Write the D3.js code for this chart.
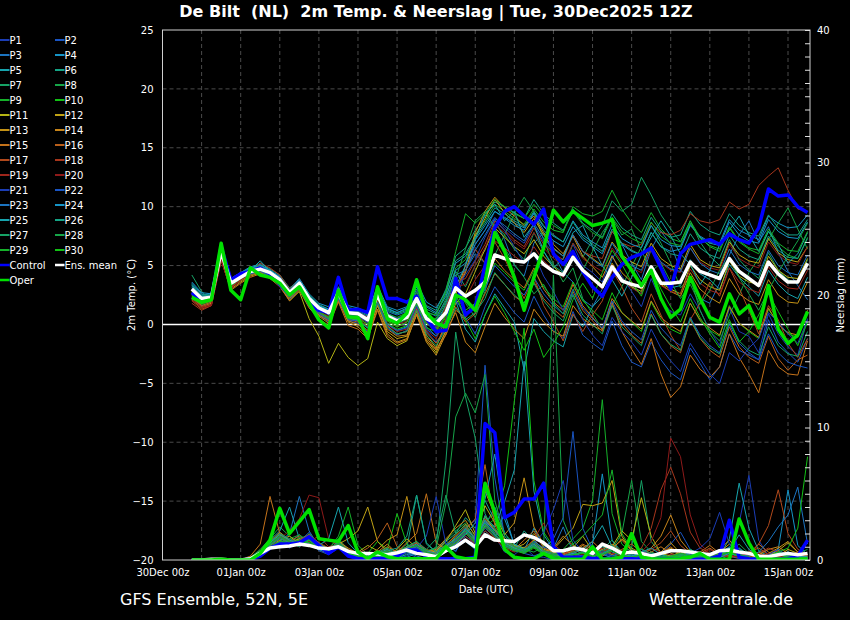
<!DOCTYPE html>
<html>
<head>
<meta charset="utf-8">
<script src="https://cdn.jsdelivr.net/npm/d3@7"></script>
<style>
  body { margin: 0; background: #000; }
  svg text { font-family: "DejaVu Sans", sans-serif; fill: #fff; }
</style>
</head>
<body>
<div id="chart"></div>
<script>
// GFS ensemble De Bilt, run 30Dec2025 12Z, 6-hourly steps (+6h .. +384h)

const leadHours = [6,12,18,24,30,36,42,48,54,60,66,72,78,84,90,96,102,108,114,120,126,132,138,144,150,156,162,168,174,180,186,192,198,204,210,216,222,228,234,240,246,252,258,264,270,276,282,288,294,300,306,312,318,324,330,336,342,348,354,360,366,372,378,384];

const memberNames = ["P1","P2","P3","P4","P5","P6","P7","P8","P9","P10","P11","P12","P13","P14","P15","P16","P17","P18","P19","P20","P21","P22","P23","P24","P25","P26","P27","P28","P29","P30"];

const memberColors = ["#1b3db5","#1a55c2","#1c74c0","#1694c6","#17a4ad","#15a385","#16a266","#16a548","#15b12a","#12c015",
                      "#b4b414","#c0a315","#c49216","#c6841a","#c4721a","#b95f1b","#b0491c","#a6361c","#9e261c","#8d1a1a",
                      "#1b3db5","#1a55c2","#1c74c0","#1694c6","#17a4ad","#15a385","#16a266","#16a548","#15b12a","#12c015"];

const dateTicks = [Date.UTC(2025,11,30), Date.UTC(2026,0,1), Date.UTC(2026,0,3), Date.UTC(2026,0,5), Date.UTC(2026,0,7),
                   Date.UTC(2026,0,9), Date.UTC(2026,0,11), Date.UTC(2026,0,13), Date.UTC(2026,0,15)];
const tempTicks = [-20,-15,-10,-5,0,5,10,15,20,25];
const precipLabels = [0,10,20,30,40];

// 2m temperature (°C)
const tempControl = [2.7,2.0,2.3,6.6,3.8,4.3,4.5,4.8,4.3,3.4, 2.5,3.3,1.8,1.2,1.0,4.0,1.2,1.3,1.0,4.9, 2.2,2.2,1.9,2.4,0.5,-0.6,-0.5,3.9,0.8,1.5,
  5.0,8.2,9.6,10.0,9.2,8.5,9.8,6.0,5.1,6.2, 4.5,3.2,2.4,4.0,5.1,5.7,6.0,6.5,4.8,3.0, 6.0,6.8,7.0,7.2,6.8,7.7,7.2,6.9,8.2,11.5, 10.9,11.0,10.0,9.5];
const tempOper = [2.3,1.9,2.1,6.9,2.9,2.1,4.8,4.2,4.0,3.5, 2.5,3.2,1.8,0.4,-0.3,2.9,0.65,0.6,-1.2,3.2, 0.5,0.1,0.95,3.8,1.0,0.1,-0.2,2.5,2.1,1.2,
  3.6,7.8,6.2,4.0,1.2,4.0,6.5,9.7,8.7,9.6, 9.0,8.4,8.6,8.9,5.8,4.6,3.3,4.6,2.2,0.6, 1.3,4.0,2.2,0.6,0.2,2.6,0.9,1.6,-0.3,3.3, -0.4,-1.6,-0.9,1.1];
const tempMean = [3.0,2.2,2.3,6.2,3.5,4.0,4.5,4.7,4.4,3.8, 2.7,3.5,2.2,1.4,1.0,2.7,1.0,0.9,0.4,2.5, 0.7,0.3,0.6,2.2,0.5,0.1,1.0,3.1,2.4,2.9,
  3.6,5.9,5.6,5.4,5.3,6.0,5.1,4.5,4.2,5.7, 4.6,3.9,3.2,4.9,3.7,3.4,3.2,4.9,3.5,3.5, 3.6,5.3,4.5,4.2,3.9,5.6,4.5,3.9,3.3,5.3, 4.3,3.6,3.6,5.2];

const tempMembers = [
  /* P1 */ [2.6,1.8,2.1,6.0,3.2,4.1,4.6,4.9,4.2,3.5,2.4,3.1,1.9, 1.2,0.6,3.0,1.3,0.8,0.1,2.8,1.0,0.5,-0.2,1.6,0.2,-0.8,0.4, 2.0,4.5,6.8,8.0,9.1,8.2,7.5,6.9,8.4,7.0,6.1,5.2,6.8,5.0,4.4,3.6,5.9,4.1,2.8,1.5,3.9,2.0,1.1,0.8,2.6,1.2,-0.5,-1.8,1.4,-0.6,-1.0,-2.4,0.9,-0.8,-1.9,-2.6,0.5],
  /* P2 */ [2.2,1.6,1.9,5.6,3.0,3.8,4.3,4.5,4.1,3.3,2.1,3.0,1.5, 0.8,0.2,2.2,0.3,0.1,-0.6,1.9,-0.3,-0.9,-0.5,1.4,-0.6,-1.5,-0.4, 2.2,0.6,-0.8,1.5,3.2,2.1,1.0,0.2,2.4,0.8,-0.5,-1.2,1.1,-0.9,-1.6,-2.2,0.3,-1.8,-3.2,-3.6,-1.5,-3.0,-4.1,-4.7,-2.0,-3.3,-4.7,-3.6,-0.8,-2.2,-2.6,-3.0,0.4,-1.5,-2.4,-3.2,-1.2],
  /* P3 */ [3.2,2.5,2.6,6.5,3.8,4.3,4.8,5.0,4.6,4.0,2.9,3.8,2.4, 1.6,1.2,2.9,1.1,1.0,0.6,2.6,0.9,0.5,0.9,2.5,0.8,0.3,1.6, 3.8,4.6,6.0,5.2,8.9,7.2,5.0,4.1,6.9,7.8,6.0,4.4,3.6,2.1,1.5,3.0,5.6,6.8,5.2,3.8,6.4,7.9,6.8,4.6,3.9,2.2,1.8,3.5,5.9,7.6,8.8,7.0,8.3,6.1,4.5,3.3,2.1],
  /* P4 */ [3.5,2.6,2.4,6.4,3.9,4.4,4.9,5.1,4.6,4.1,3.0,3.9,2.6, 1.8,1.5,3.2,1.6,1.4,1.0,3.3,1.5,1.2,1.5,3.6,1.9,1.4,2.8, 5.2,5.8,7.2,8.4,9.6,9.1,8.6,8.2,9.4,8.0,7.1,6.6,8.3,7.2,6.6,6.0,7.9,6.8,6.2,5.9,7.8,6.6,6.2,6.4,8.4,7.5,7.0,6.9,8.9,8.0,7.6,7.2,9.2,8.6,8.2,8.3,9.3],
  /* P5 */ [2.9,2.1,2.2,6.1,3.6,4.0,4.4,4.6,4.3,3.7,2.5,3.4,2.0, 1.0,0.5,2.4,0.4,0.3,-0.3,1.9,0.0,-0.5,-0.2,1.8,-0.2,-1.0,0.2, 2.0,-0.4,-1.5,0.8,2.6,1.4,0.2,-3.9,0.5,-0.6,-1.4,-1.9,0.8,-0.2,1.5,2.4,4.6,3.8,3.2,2.6,4.8,3.6,3.1,3.3,5.5,4.3,3.8,3.0,5.1,4.0,3.2,2.4,4.6,3.4,2.6,2.2,4.0],
  /* P6 */ [3.4,2.4,2.5,6.6,3.7,4.2,4.7,5.2,4.7,4.2,3.1,3.7,2.5, 1.7,1.3,3.0,1.4,1.3,0.9,3.0,1.4,1.0,1.3,3.3,1.6,1.2,3.0, 5.8,6.5,8.0,9.2,10.4,10.0,9.5,9.0,10.6,9.4,8.6,8.0,9.8,8.6,8.0,7.4,9.4,8.2,7.6,7.2,9.1,7.9,7.4,7.6,9.6,8.5,7.9,7.6,9.4,8.4,7.8,7.5,9.3,8.2,7.6,7.6,8.9],
  /* P7 */ [4.2,2.8,2.0,6.8,3.3,3.7,4.3,4.8,4.5,3.9,2.8,3.6,2.1, 1.3,0.8,2.6,0.8,0.6,0.2,2.3,0.5,0.1,0.4,2.0,0.1,-0.3,1.8, 4.5,3.2,5.0,6.3,8.5,7.6,6.4,5.5,7.8,6.2,5.0,4.4,6.9,5.7,7.2,8.4,10.5,9.6,10.2,12.5,11.0,9.3,8.1,7.0,8.8,7.0,5.8,5.0,7.2,5.5,4.6,3.9,6.1,4.6,3.8,3.5,5.5],
  /* P8 */ [3.1,2.3,2.4,6.3,3.4,4.0,4.6,4.8,4.4,3.9,2.8,3.6,2.3, 1.5,1.1,2.8,1.1,1.0,0.5,2.6,0.8,0.4,0.8,2.4,0.6,0.2,1.2, 3.4,1.8,0.6,2.8,5.9,7.6,9.4,10.8,9.6,7.2,5.1,3.6,4.8,2.2,0.9,-0.4,1.6,3.2,4.9,6.6,8.4,6.9,5.2,3.1,4.0,1.2,-0.6,-1.4,0.8,2.5,4.4,5.6,7.2,8.6,9.9,8.1,6.4],
  /* P9 */ [2.7,2.0,2.3,6.2,3.6,4.2,4.5,4.6,4.3,3.7,2.6,3.4,2.1, 1.3,0.9,2.6,0.9,0.8,0.3,2.4,0.6,0.2,0.7,2.4,0.6,0.5,2.2, 4.8,5.5,7.6,8.8,10.2,9.6,9.0,8.5,9.8,8.7,8.0,7.8,10.0,9.4,9.2,9.6,11.4,9.8,8.6,7.8,9.5,8.1,7.3,7.0,8.8,7.4,6.6,6.2,8.2,7.0,6.4,6.0,7.9,6.6,5.9,5.6,7.4],
  /* P10 */ [2.4,1.7,2.0,5.9,3.1,3.8,4.2,4.4,4.0,3.4,2.3,3.2,1.8, 0.9,0.4,2.3,0.5,0.4,-0.2,2.0,0.1,-0.4,-0.1,1.7,-0.3,-0.6,0.6, 2.4,1.2,1.8,3.0,5.2,4.4,3.6,2.9,4.6,3.2,2.2,1.5,3.6,2.0,1.2,0.4,2.7,1.0,0.2,-0.6,1.9,0.4,-0.4,-0.8,1.8,0.3,-0.5,-1.0,1.6,0.1,-0.6,-1.2,1.3,0.0,-0.8,-1.1,1.0],
  /* P11 */ [2.5,1.9,2.2,6.0,3.3,3.9,4.3,4.5,4.1,3.3,2.0,2.8,0.5, -1.0,-3.3,-1.6,-2.8,-3.5,-2.9,0.2,-1.2,-1.8,-1.4,0.9,-1.3,-2.4,-0.5, 1.8,2.6,4.5,6.4,8.2,7.4,6.6,6.0,7.2,5.8,4.9,4.2,6.0,4.6,3.9,3.1,5.2,3.9,3.2,2.8,4.9,3.5,3.0,2.6,5.0,3.8,3.2,2.9,5.4,4.1,3.6,3.4,5.8,4.6,4.0,3.9,5.6],
  /* P12 */ [2.8,2.0,2.1,6.3,3.5,4.1,4.6,4.8,4.3,3.6,2.5,3.3,1.9, 1.0,0.4,2.3,0.6,0.3,-0.8,1.6,-0.6,-1.2,-1.0,1.2,-0.9,-2.0,0.3, 3.0,4.4,7.5,9.0,10.6,9.5,8.6,7.8,9.0,7.6,6.5,5.8,7.6,6.2,5.6,5.0,7.0,5.9,5.3,4.9,6.9,5.6,5.0,4.7,6.8,5.5,5.0,4.8,7.0,5.9,5.4,5.2,7.3,6.1,5.5,5.3,6.6],
  /* P13 */ [2.3,1.5,1.8,5.7,3.0,3.6,4.1,4.4,4.0,3.4,2.2,3.0,1.6, 0.7,0.1,2.0,0.2,-0.2,-1.0,1.3,-0.8,-1.5,-1.2,0.8,-1.5,-2.6,-0.8, 2.5,5.0,7.8,9.6,10.8,9.9,9.2,8.4,9.2,7.8,6.8,6.0,7.5,5.8,4.9,4.0,5.8,4.4,3.6,3.0,4.9,3.4,2.8,2.4,4.4,3.0,2.3,1.8,3.9,2.6,2.0,1.7,3.8,2.5,1.9,1.8,3.6],
  /* P14 */ [2.6,1.8,2.0,6.0,3.4,4.0,4.4,4.6,4.2,3.5,2.4,3.2,1.8, 0.8,0.3,2.2,0.3,0.0,-0.7,1.6,-0.4,-1.0,-0.9,1.1,-1.1,-2.2,-0.6, 1.0,-1.5,-2.4,-0.2,1.8,0.6,-0.4,-1.2,1.3,0.2,-0.6,-1.0,1.6,0.5,-0.1,-0.5,2.2,1.0,0.3,-0.4,2.0,0.6,-0.1,-0.6,1.8,0.4,-0.3,-0.9,1.5,0.1,-0.5,-1.1,1.4,0.0,-0.7,-0.9,1.2],
  /* P15 */ [2.1,1.4,1.7,5.5,2.9,3.5,4.0,4.3,3.9,3.2,2.0,2.9,1.4, 0.5,-0.1,1.9,-0.1,-0.4,-1.2,1.2,-1.0,-1.6,-1.3,0.9,-1.4,-2.1,-0.9, 1.2,0.6,1.8,3.2,5.6,4.6,3.8,3.1,4.8,3.0,1.9,1.2,3.4,1.6,0.6,-0.4,1.9,-0.6,-2.1,-3.4,-1.2,-4.2,-6.2,-5.3,-2.6,-3.8,-4.5,-3.6,-0.8,-2.8,-4.2,-5.8,-2.2,-3.6,-4.2,-4.3,-1.4],
  /* P16 */ [2.4,1.6,1.9,5.8,3.2,3.7,4.2,4.5,4.1,3.5,2.3,3.1,1.7, 0.9,0.3,2.1,0.4,0.2,-0.5,1.8,-0.1,-0.8,-0.6,1.3,-0.7,-1.6,-0.2, 1.5,0.2,0.9,2.6,4.3,3.4,2.4,1.8,3.6,2.2,1.3,0.6,2.8,1.2,0.3,-0.6,1.7,0.1,-0.9,-1.6,0.9,-0.8,-1.8,-2.4,0.4,-1.2,-2.2,-2.8,-0.2,-1.9,-2.8,-3.3,-1.0,-2.9,-3.9,-3.0,-2.6],
  /* P17 */ [2.0,1.3,1.6,5.6,3.1,3.8,4.4,4.9,4.5,3.9,2.7,3.4,2.0, 1.1,0.6,2.5,0.7,0.6,0.0,2.2,0.3,-0.2,0.2,1.9,0.1,-0.5,0.8, 2.8,4.6,6.4,5.2,7.0,5.6,3.8,2.2,4.1,1.6,0.2,-1.4,0.9,-0.6,0.8,2.0,4.6,3.2,1.4,0.2,2.6,0.8,-0.9,-2.2,0.4,1.8,3.6,2.4,4.8,3.1,1.2,-0.8,1.6,0.4,-1.6,-2.8,-1.2],
  /* P18 */ [1.8,1.2,1.6,5.4,3.0,3.9,4.5,5.2,4.8,4.2,3.0,3.8,2.3, 1.4,1.0,3.1,1.2,1.1,0.6,2.7,0.8,0.4,0.7,2.2,0.4,-0.4,1.5, 3.6,3.9,5.4,6.8,8.8,8.0,7.2,6.6,8.2,6.8,6.0,5.5,7.6,6.2,5.8,5.6,7.9,6.9,6.6,6.8,8.6,7.8,7.6,8.0,9.4,8.8,8.6,8.9,10.4,9.8,10.2,11.8,12.6,13.3,11.4,9.8,9.6],
  /* P19 */ [2.2,1.5,1.7,5.7,3.2,3.9,4.5,4.9,4.4,3.8,2.6,3.5,2.0, 1.0,0.5,2.4,0.6,0.5,-0.2,2.0,0.0,-0.6,-0.4,1.5,-0.5,-1.2,0.5, 2.4,2.2,3.8,5.0,7.1,6.5,5.8,5.2,6.6,5.4,4.6,4.0,5.9,4.5,3.8,3.0,5.1,3.7,3.1,2.6,4.6,3.3,2.8,2.6,4.7,3.5,2.9,2.6,4.8,3.6,3.0,2.7,4.9,3.7,3.1,3.0,4.6],
  /* P20 */ [2.0,1.4,1.6,5.5,3.0,3.8,4.3,4.7,4.3,3.7,2.6,3.4,1.9, 1.1,0.7,2.6,0.8,0.7,0.2,2.3,0.4,0.0,0.3,2.0,0.2,-0.2,1.0, 3.2,3.4,5.0,6.5,8.4,7.8,7.0,6.4,7.8,6.5,5.6,5.0,6.9,5.6,5.0,4.5,6.5,5.3,4.8,4.4,6.4,5.2,4.6,4.4,6.5,5.3,4.8,4.6,6.8,5.6,5.1,4.8,7.0,5.9,5.3,5.1,6.6],
  /* P21 */ [3.0,2.2,2.3,6.1,3.5,4.1,4.5,4.7,4.3,3.7,2.6,3.4,2.1, 1.3,0.8,2.6,0.8,0.7,0.2,2.4,0.6,0.2,0.5,2.1,0.4,-0.2,0.9, 3.0,4.2,5.5,7.4,8.9,8.0,6.6,5.2,6.0,4.1,2.8,1.2,2.6,0.4,-0.9,-1.8,0.6,-0.6,-1.5,-2.6,-0.4,-2.0,-3.1,-4.0,-1.6,-2.9,-4.2,-5.0,-2.4,-3.1,-2.0,-1.2,1.0,0.2,-0.8,-1.6,0.4],
  /* P22 */ [2.7,1.9,2.1,5.9,3.3,3.9,4.3,4.5,4.1,3.5,2.4,3.2,1.8, 0.9,0.4,2.2,0.4,0.3,-0.3,1.9,0.0,-0.5,-0.3,1.6,-0.4,-1.0,0.2, 2.0,1.0,1.6,3.0,5.0,4.1,3.2,2.5,4.0,2.6,1.6,0.9,3.0,1.4,0.5,-0.3,2.0,0.3,-0.6,-1.3,1.2,-0.3,-1.2,-1.8,0.6,-0.9,-1.8,-2.4,0.0,-1.6,-2.4,-3.0,-0.8,-2.4,-3.2,-3.5,-3.7],
  /* P23 */ [3.3,2.4,2.4,6.4,3.7,4.2,4.7,4.9,4.5,3.9,2.8,3.7,2.3, 1.5,1.1,2.9,1.2,1.1,0.7,2.8,1.1,0.8,1.1,2.8,1.1,0.7,2.0, 4.2,4.6,6.3,7.6,9.0,8.4,7.7,7.1,8.6,7.3,6.4,5.8,7.6,6.2,5.5,4.9,6.9,5.6,5.0,4.6,6.6,5.3,4.7,4.5,6.5,5.2,4.6,4.3,6.4,5.1,4.5,4.2,6.3,5.0,4.4,4.2,5.9],
  /* P24 */ [3.6,2.7,2.6,6.6,3.9,4.4,4.8,5.0,4.6,4.0,2.9,3.8,2.4, 1.6,1.3,3.1,1.4,1.3,0.9,3.1,1.3,1.0,1.4,3.2,1.5,1.0,2.4, 4.6,5.2,6.8,8.0,9.6,9.0,8.4,8.0,9.5,8.3,7.5,7.0,8.8,7.6,7.0,6.5,8.5,7.3,6.8,6.5,8.4,7.2,6.7,6.6,8.5,7.4,6.9,6.7,8.7,7.6,7.1,6.9,8.9,7.9,7.4,7.3,8.7],
  /* P25 */ [3.1,2.3,2.4,6.2,3.6,4.1,4.6,5.4,4.5,3.4,2.7,3.5,2.2, 1.4,1.0,2.8,1.0,0.9,0.4,2.5,0.7,0.3,0.6,2.2,0.5,0.0,1.1, 3.2,5.0,7.2,9.4,10.2,8.8,9.6,7.4,8.5,6.2,4.8,5.6,7.8,8.4,6.6,5.0,3.8,2.4,4.0,5.9,7.4,8.8,7.5,6.0,5.1,3.4,4.6,6.8,8.0,9.2,7.6,6.2,7.9,6.8,5.2,6.0,7.8],
  /* P26 */ [3.3,2.5,2.5,6.5,3.8,4.3,4.7,5.0,4.5,3.9,2.8,3.6,2.3, 1.5,1.2,3.0,1.3,1.2,0.8,2.9,1.2,0.9,1.2,3.0,1.3,0.9,2.6, 5.4,6.0,7.4,8.6,9.9,9.4,8.8,8.3,9.6,8.4,7.6,7.0,8.7,7.4,6.8,6.2,8.1,6.9,6.3,5.9,7.8,6.6,6.0,5.8,7.7,6.5,5.9,5.6,7.6,6.4,5.8,5.5,7.5,6.3,5.7,5.6,7.3],
  /* P27 */ [2.8,2.0,2.2,6.1,3.3,3.9,4.4,4.6,4.2,3.6,2.5,3.3,1.9, 1.0,0.5,2.3,0.5,0.4,-0.3,1.8,-0.2,-0.8,-0.6,1.2,-0.9,-1.8,-0.4, 1.4,0.4,1.0,2.2,4.4,3.4,2.5,1.8,3.5,2.0,1.0,0.3,2.5,0.8,0.0,-0.8,1.6,-0.2,-1.0,-1.8,0.8,-0.8,-1.7,-2.2,0.5,-1.1,-2.0,-2.5,0.2,-1.4,-2.2,-2.6,-0.2,-1.8,-2.5,-2.7,-0.6],
  /* P28 */ [3.0,2.2,2.3,6.3,3.5,4.1,4.6,4.8,4.4,3.8,2.7,3.5,2.1, 1.3,0.9,2.7,0.9,0.8,0.3,2.5,0.6,0.2,0.5,2.1,0.4,0.4,1.9, 3.9,6.4,8.8,9.6,8.2,6.5,5.1,4.0,2.6,3.4,1.8,0.9,2.8,4.6,6.2,7.8,9.0,7.6,8.1,6.3,4.5,5.2,3.6,2.2,3.4,1.7,2.9,4.6,5.7,4.0,2.6,1.2,2.9,4.4,5.8,7.1,8.6],
  /* P29 */ [2.9,2.1,2.2,6.4,3.6,4.2,4.6,4.7,4.3,3.8,2.7,3.5,2.1, 1.4,1.0,2.8,1.1,1.0,0.5,2.7,0.9,0.6,1.0,2.7,1.0,0.8,2.8, 6.2,9.4,8.6,9.4,10.6,10.0,9.4,9.0,10.2,9.2,8.4,7.9,9.6,8.5,7.8,7.3,9.1,7.9,7.3,6.9,8.7,7.5,6.9,6.7,8.6,7.3,6.7,6.4,8.3,7.1,6.5,6.3,8.1,6.9,6.3,6.2,7.9],
  /* P30 */ [2.5,1.8,2.1,6.0,3.3,3.9,4.4,4.6,4.2,3.6,2.5,3.3,1.9, 1.1,0.6,2.4,0.6,0.5,0.0,2.2,0.3,-0.2,0.2,1.9,0.1,-0.4,0.7, 2.6,0.4,-1.2,0.8,2.4,1.0,-0.6,-2.2,-0.4,-2.8,-1.6,-0.2,2.1,3.5,2.2,4.4,6.3,5.1,3.6,2.4,4.8,3.0,1.5,0.2,2.2,0.6,-0.8,-2.0,0.4,-1.5,-0.6,0.8,2.6,1.1,-0.4,-1.8,0.2]
];

// precipitation per 6h (mm), right axis
const precipControl = [0,0,0,0,0,0,0.05,0.3,0.9,1.2, 1.2,1.3,1.75,1.1,0.5,1.0,0.3,0.1,0.1,0.1, 0.1,0.3,0.75,0.75,0.25,0.1,0.1,0.1,0.1,0.2,
  10.3,9.6,3.2,3.6,4.6,4.6,5.8,1.0,0.2,0.2, 0.2,0.1,0.1,0.1,0.1,0.1,0.05,0.05,0.05,0.05, 0.05,0.05,0.05,0.1,0.3,3.0,0.2,0.1,0.05,0.05, 0.05,0.1,0.3,1.5];
const precipOper = [0,0,0,0.05,0,0,0,0.5,1.5,3.9, 2.0,2.9,3.8,1.6,1.5,1.4,2.6,0.6,0.1,0.6, 0.25,0.1,0.1,0.1,0.1,0.1,1.0,0.25,0.1,0.1,
  5.8,3.6,0.8,0.2,0.1,0.1,0.5,0.1,0.05,0.05, 0.05,1.0,0.05,0.1,0.2,2.0,0.2,0.1,0.05,0.05, 0.1,0.2,0.5,0.05,0.05,0.05,3.1,1.3,0.05,0.05, 0.05,0.05,0.05,0.05];
const precipMean = [0,0,0.05,0.05,0,0,0.1,0.5,0.9,1.0, 1.05,1.2,1.1,0.9,0.85,1.0,0.65,0.5,0.5,0.45, 0.4,0.55,0.75,0.5,0.4,0.25,0.7,1.0,1.5,1.0,
  1.9,1.5,1.45,1.4,1.9,1.7,1.3,0.7,0.7,0.9, 0.8,0.5,1.2,0.9,0.5,0.6,0.5,0.3,0.5,0.7, 0.7,0.6,0.5,0.4,0.7,0.75,0.6,0.5,0.3,0.25, 0.4,0.5,0.4,0.5];

const precipMembers = [
  /* P1 */ [0,0,0,0,0,0,0.1,0.4,1.2,1.6, 0.9,1.4,2.1,0.8,0.6,1.1,0.4,0.2,0,0.3, 0.1,0,0.5,0.2,0,0.8,1.5,0.6,2.2,0.9, 3.4,1.8,0.6,0.4,1.0,0.3,0.2,0,0.1,0, 0,0.2,0.5,0.1,0,0,0.1,0,0,0.4, 0.2,0,0,0.1,0.6,0.9,2.8,6.4,1.5,0.3, 0,0,0.2,0.1],
  /* P2 */ [0,0,0,0,0,0,0,0.3,0.9,1.3, 1.5,1.0,1.6,0.7,0.4,0.9,0.3,0.1,0,0.2, 0,0.1,0.3,0.6,0.2,0.4,0.9,1.2,2.4,3.0, 14.7,6.2,1.8,0.9,0.5,0.3,0.6,0.2,0.1,0, 0,0.1,0.2,0,0,0.3,0.1,0,0.5,1.2, 2.1,0.8,0.4,0.2,0.6,0.3,0.1,0,0.2,0, 0.1,0.3,0.1,0],
  /* P3 */ [0,0,0,0,0,0,0.2,0.6,1.0,1.4, 2.0,4.8,2.2,1.0,0.7,1.3,0.5,0.3,0.1,0.2, 0.4,0.2,0.6,0.3,0.1,0.5,1.0,0.7,1.8,1.2, 2.6,4.0,2.1,0.8,0.6,1.1,0.4,0.9,2.5,0.6, 0.2,0.1,0.4,0.2,0.1,0,0.2,0.3,0.1,0, 0.2,0.6,0.3,0.1,0,0.4,0.9,0.3,0.1,0, 0,0.2,0.4,0.1],
  /* P4 */ [0,0,0,0,0,0,0.1,0.5,1.1,1.8, 1.3,1.9,1.2,0.9,0.5,1.4,0.6,0.2,0,0.1, 0.3,0.1,0.2,0.5,0.3,0.2,0.6,0.9,1.4,0.8, 2.2,1.5,3.6,1.1,0.7,2.4,1.0,0.5,0.3,0.2, 0.6,1.2,6.5,1.5,0.4,0.2,0.1,0,0.1,0.2, 0.3,0.1,0,0.2,0.5,1.0,0.4,0.2,0.1,0.3, 0.8,5.3,1.1,0.4],
  /* P5 */ [0,0,0,0,0,0,0.2,0.7,1.5,2.2, 4.0,1.6,1.1,0.8,0.6,1.0,0.4,0.2,0.1,0.3, 0.5,0.2,0.4,0.7,0.3,0.3,0.8,1.1,2.0,1.4, 3.2,2.5,4.4,6.8,15.0,5.2,1.9,0.8,0.4,0.3, 0.2,0.4,1.1,0.6,0.3,0.2,0.1,0.4,0.2,0.1, 0.3,0.8,0.4,0.2,0.3,1.6,5.8,2.4,0.7,0.3, 0.2,0.4,0.3,0.2],
  /* P6 */ [0,0,0,0,0,0,0.1,0.4,0.9,1.4, 1.1,1.6,1.9,1.3,0.7,1.2,0.5,0.3,0,0.2, 0.6,0.3,0.9,4.9,1.2,0.6,1.4,2.0,3.2,2.4, 4.5,3.0,1.6,0.9,2.2,1.4,0.6,0.4,0.2,0.1, 0.3,0.5,1.0,0.4,0.2,0.1,0.3,0.6,0.2,0.1, 0.4,0.2,0.1,0,0.3,0.6,0.9,0.4,0.2,0.1, 0.3,0.6,0.2,0.1],
  /* P7 */ [0,0,0,0,0,0,0.1,0.5,1.3,2.0, 1.4,1.2,1.8,1.0,0.6,1.5,0.7,0.3,0.1,0.4, 0.2,0.6,1.2,0.8,0.5,1.0,7.5,17.2,12.3,9.2, 3.5,2.0,1.2,0.8,0.5,1.1,0.4,0.3,0.6,0.2, 0.1,0.3,0.8,1.5,0.6,0.9,6.0,1.4,0.5,0.2, 0.1,0.3,0.1,0,0.2,0.4,0.8,0.3,0.1,0, 0.2,0.4,0.1,0],
  /* P8 */ [0,0,0,0,0,0,0.2,0.8,1.6,2.5, 1.8,1.3,2.0,1.2,0.9,1.6,0.8,0.4,0.2,0.5, 0.3,0.7,1.0,1.4,0.6,0.9,1.5,2.2,2.8,1.9, 3.0,2.4,1.5,1.0,0.8,0.6,1.0,21.5,3.0,1.2, 0.5,0.4,1.2,0.8,2.0,6.0,1.4,0.6,0.3,0.2, 0.4,0.8,0.3,0.1,0.2,0.6,1.2,0.5,0.2,0.1, 0.3,0.2,0.5,0.8],
  /* P9 */ [0,0,0,0,0,0,0.1,0.3,0.8,1.2, 1.6,1.9,1.4,1.0,0.8,1.8,4.0,1.1,0.4,0.6, 0.4,0.3,0.8,1.1,0.7,0.6,1.2,1.8,2.5,1.6, 2.8,3.6,2.0,1.2,0.9,1.4,0.7,0.5,0.8,1.6, 2.4,4.5,12.1,3.5,1.2,0.6,0.3,0.2,0.1,0.3, 0.2,0.5,0.2,0.1,0.3,0.8,0.4,0.2,0.1,0, 0.2,0.3,0.1,0.2],
  /* P10 */ [0,0,0,0,0,0,0.2,0.5,1.0,1.5, 1.2,1.7,1.3,0.9,0.6,1.3,0.6,0.3,0.5,1.4, 0.8,3.5,1.2,0.6,0.3,0.5,0.8,1.3,2.0,1.5, 2.5,3.1,5.6,12.0,17.5,6.0,2.1,1.0,0.6,0.4, 0.3,0.5,0.8,0.4,0.2,0.4,0.9,0.3,0.1,0.2, 0.4,0.2,0.1,0,0.3,0.5,0.2,0.1,0,0.1, 0.2,0.4,0.2,0.1],
  /* P11 */ [0,0,0,0,0,0,0.1,0.4,0.9,1.3, 1.0,1.4,1.9,1.2,0.8,1.0,0.5,0.6,1.1,0.7, 0.4,0.8,1.6,0.9,0.5,0.7,1.4,2.6,3.8,2.0, 4.1,2.8,1.6,1.1,0.9,1.5,0.8,0.6,0.4,0.9, 1.8,0.7,0.4,1.0,2.2,1.5,4.7,1.8,0.5,0.3, 0.6,0.4,0.2,0.1,0.4,0.9,0.5,0.3,0.6,0.2, 0.3,0.8,0.5,0.2],
  /* P12 */ [0,0,0,0,0,0,0.2,0.6,1.1,1.5, 1.8,1.2,1.5,1.0,0.7,1.2,1.6,2.2,4.0,1.4, 0.6,0.5,1.0,0.8,0.4,0.6,1.1,1.9,2.7,1.5, 3.3,2.2,1.3,0.9,1.2,2.0,1.1,0.8,1.6,2.4, 4.2,4.1,4.3,6.0,1.8,0.7,0.4,0.3,0.5,0.9, 0.4,0.2,0.1,0.2,0.6,1.2,0.5,0.3,0.2,0.4, 0.7,1.3,0.6,0.3],
  /* P13 */ [0,0,0,0,0,0,0.1,0.5,1.2,1.7, 1.3,1.6,1.1,0.8,0.5,1.1,0.6,0.4,0.2,0.8, 1.5,1.9,4.8,1.2,0.6,0.8,1.6,2.4,3.0,1.8, 5.2,3.4,1.9,2.8,6.2,2.5,1.2,0.8,0.5,0.6, 1.1,0.6,0.3,0.8,1.6,0.9,0.5,0.3,0.6,1.3, 0.5,0.2,0.1,0.3,0.8,1.5,0.6,0.3,0.2,0.5, 0.9,1.4,0.6,0.3],
  /* P14 */ [0,0,0,0,0,0,0.1,0.6,1.4,2.1, 1.5,1.1,1.7,1.2,0.8,1.4,0.9,0.5,0.3,0.6, 1.2,0.5,0.9,1.3,0.8,0.5,1.0,1.6,2.2,1.3, 2.9,2.3,1.4,0.9,0.7,1.2,0.6,0.9,1.8,1.1, 0.6,0.4,0.8,1.2,0.6,0.4,0.3,0.9,1.8,3.4, 1.5,0.6,0.3,0.2,0.5,0.7,0.3,0.2,0.4,0.8, 1.0,0.5,0.3,0.2],
  /* P15 */ [0,0,0,0,0,0,0.3,1.2,4.8,2.0, 1.4,1.0,1.6,0.9,0.6,1.2,0.7,0.4,0.2,0.5, 1.0,0.6,1.3,2.0,5.0,1.3,0.8,1.4,2.1,1.2, 2.6,1.9,1.1,0.8,1.5,2.2,0.9,0.6,0.4,0.7, 1.2,0.8,0.5,0.9,1.5,0.7,0.4,0.6,1.0,0.5, 0.3,0.2,0.6,1.1,0.5,0.3,0.2,0.5,1.2,0.6, 0.3,0.2,0.4,0.3],
  /* P16 */ [0,0,0,0,0,0,0.2,0.7,1.5,1.9, 1.4,1.8,1.2,1.0,0.7,1.3,0.8,0.5,0.9,1.6, 2.8,1.0,0.6,1.1,0.7,0.4,0.9,1.5,2.3,3.1, 7.2,2.6,1.5,1.0,0.8,1.3,0.7,0.5,0.3,0.6, 0.9,1.4,0.7,0.4,0.8,1.2,0.6,0.3,0.5,1.0, 0.4,0.2,0.5,0.9,0.4,0.2,0.3,0.6,0.9,0.4, 0.2,0.3,0.6,0.4],
  /* P17 */ [0,0,0,0,0,0,0.1,0.4,1.0,1.4, 1.2,1.5,1.9,1.3,0.9,1.1,0.6,0.3,0.1,0.4, 0.6,0.3,0.7,1.0,0.6,0.4,0.8,1.3,2.0,1.4, 2.4,1.7,1.0,0.7,0.6,1.0,0.5,0.3,0.4,0.8, 0.5,0.3,0.6,1.0,0.5,0.2,0.4,0.8,1.3,2.2, 1.1,0.5,0.3,0.2,0.5,0.8,0.4,0.3,1.2,2.6, 5.3,2.0,0.8,0.4],
  /* P18 */ [0,0,0,0,0,0,0.2,0.6,1.3,1.8, 1.5,1.2,1.6,1.1,0.8,1.3,0.7,0.4,0.2,0.5, 0.8,0.4,0.9,1.3,0.7,0.5,1.1,1.8,2.5,1.6, 3.1,2.2,1.3,0.9,0.7,1.2,0.6,0.4,0.3,0.5, 0.8,0.4,0.6,1.0,0.7,0.5,0.9,2.4,5.3,7.0, 5.0,2.1,0.9,0.5,0.3,0.6,0.4,0.2,0.5,0.9, 0.6,0.3,0.2,0.4],
  /* P19 */ [0,0,0,0,0,0,0.1,0.5,1.1,1.6, 1.3,1.0,1.4,1.8,1.0,1.2,0.6,0.3,0.1,0.3, 0.5,0.3,0.6,0.9,0.5,0.3,0.7,1.2,1.8,1.2, 2.2,1.6,0.9,0.6,0.8,1.6,2.8,1.2,0.6,0.4, 0.3,0.5,0.9,0.5,0.3,0.2,0.5,0.9,0.6,0.4, 0.3,0.2,0.4,0.8,0.4,0.2,0.3,0.5,0.2,0.1, 0.3,0.5,0.3,0.2],
  /* P20 */ [0,0,0,0,0,0,0.2,0.5,1.0,1.6, 2.2,3.1,4.9,4.7,1.6,1.0,0.5,0.3,0.2,0.4, 0.7,0.4,0.8,1.1,0.6,0.4,0.9,1.5,2.1,1.3, 2.7,1.9,1.1,0.8,0.6,1.1,0.5,0.4,0.3,0.6, 0.4,0.3,0.5,0.8,0.4,0.3,0.6,1.4,3.2,9.2, 7.8,3.4,1.2,0.5,0.3,0.4,0.2,0.1,0.3,0.5, 0.3,0.2,0.1,0.2],
  /* P21 */ [0,0,0,0,0,0,0.1,0.4,0.9,1.3, 1.1,1.4,1.2,0.8,0.6,1.0,0.5,0.3,0.1,0.3, 0.5,0.2,0.6,0.9,1.8,4.8,1.2,1.4,2.0,1.3, 2.4,1.8,1.0,0.7,0.6,1.2,2.1,3.8,6.0,1.5, 0.6,0.4,0.7,0.3,0.2,0.4,0.8,0.3,0.2,0.1, 0.3,0.5,0.9,1.6,3.6,1.2,0.4,0.2,0.1,0.3, 0.5,0.2,0.1,0.2],
  /* P22 */ [0,0,0,0,0,0,0.2,0.6,1.2,1.7, 1.4,1.1,1.6,1.0,0.7,1.3,0.6,0.3,0.1,0.4, 0.6,0.3,0.7,1.0,0.5,0.3,0.8,1.4,2.1,1.5, 2.9,2.0,1.2,0.8,0.6,1.4,0.9,1.6,3.2,9.7, 2.4,0.8,0.5,0.3,0.6,0.4,0.2,0.5,0.3,0.1, 0.2,0.4,0.2,0.1,0.3,0.6,0.3,0.2,0.1,0.4, 0.8,0.3,0.2,0.1],
  /* P23 */ [0,0,0,0,0,0,0.1,0.5,1.0,1.4, 1.2,1.5,1.3,0.9,0.6,1.1,0.6,0.4,0.2,0.4, 0.6,0.3,0.7,1.0,0.6,0.4,0.9,1.5,2.2,1.4, 2.6,1.9,1.1,0.8,0.6,1.1,0.5,0.3,0.2,0.5, 0.3,0.2,0.5,0.9,0.4,0.3,0.6,0.3,0.2,0.1, 0.3,0.6,0.3,0.2,0.4,0.8,0.4,0.3,0.6,1.4, 2.5,3.4,5.5,1.2],
  /* P24 */ [0,0,0,0,0,0,0.1,0.4,0.8,1.2, 1.0,1.3,1.1,0.8,0.5,1.0,0.5,0.3,0.1,0.3, 0.5,0.2,0.6,0.8,0.4,0.3,0.7,1.2,1.9,2.8, 4.6,8.0,3.1,1.2,0.8,1.0,0.5,0.3,0.2,0.4, 0.6,0.3,0.5,0.8,0.4,0.2,0.5,0.3,0.1,0.2, 0.4,0.3,0.6,0.3,0.2,0.5,0.3,0.2,0.1,0.3, 0.5,0.2,0.1,0.3],
  /* P25 */ [0,0,0,0,0,0,0.2,0.6,1.3,1.9, 1.5,1.2,1.7,1.1,1.6,4.0,1.3,0.5,0.3,0.5, 0.8,0.4,0.9,1.2,0.7,0.5,1.0,1.7,2.4,1.6, 3.0,2.2,1.3,0.9,0.7,1.2,0.6,0.4,0.3,0.5, 0.8,1.4,2.6,1.0,0.4,0.3,0.6,0.9,0.4,0.2, 0.3,0.5,0.2,0.1,0.4,0.7,1.9,0.8,0.3,0.2, 0.4,0.6,0.3,0.2],
  /* P26 */ [0,0,0,0,0,0,0.1,0.5,1.1,1.6, 1.3,1.0,1.5,1.0,0.7,1.2,0.6,0.4,0.2,0.5, 0.7,0.9,1.8,4.9,1.3,0.6,1.1,1.6,2.3,1.5, 2.8,2.0,1.2,0.8,0.6,1.0,0.5,0.3,0.2,0.4, 0.6,0.3,0.5,0.8,0.4,0.2,0.4,0.3,0.1,0.2, 0.4,0.2,0.1,0.3,0.6,0.9,0.4,0.2,0.1,0.3, 0.6,0.3,0.2,0.1],
  /* P27 */ [0,0,0,0,0,0,0.2,0.7,1.4,2.0, 1.6,1.3,1.8,1.2,0.8,1.4,0.7,0.4,0.2,0.6, 0.9,0.5,1.0,1.4,0.8,1.6,4.9,2.0,2.6,1.7, 3.3,2.4,1.4,1.0,0.8,1.3,0.7,0.5,0.3,0.6, 0.9,0.5,0.7,1.1,0.6,0.4,0.8,0.5,0.3,0.2, 0.5,0.3,0.2,0.1,0.4,0.8,0.4,0.2,0.1,0.3, 0.6,0.4,0.2,0.1],
  /* P28 */ [0,0,0,0,0,0,0.1,0.5,1.2,1.7, 1.4,1.1,1.6,1.0,0.7,1.3,0.6,0.3,0.1,0.4, 0.6,0.3,0.8,1.1,0.7,0.9,4.3,10.8,12.6,11.1, 14.0,4.5,1.8,1.0,0.7,1.1,0.5,0.3,0.2,0.4, 0.6,0.3,0.5,0.9,0.4,0.2,0.4,0.3,0.1,0.2, 0.4,0.2,0.1,0.2,0.5,0.8,0.4,0.2,0.1,0.3, 0.5,0.3,0.2,0.1],
  /* P29 */ [0,0,0,0,0,0,0.2,0.6,1.2,1.8, 1.4,1.1,1.5,1.0,0.7,1.2,0.6,0.3,0.2,0.5, 0.7,0.4,0.8,1.1,0.6,0.4,0.9,1.5,2.2,1.4, 2.7,2.0,1.2,0.8,0.6,1.0,0.5,0.4,0.6,1.2, 1.8,2.6,3.4,6.8,2.0,0.8,0.4,0.3,0.2,0.3, 0.5,0.3,0.2,0.1,0.3,0.6,0.3,0.2,0.1,0.2, 0.4,0.2,0.1,0.2],
  /* P30 */ [0,0,0,0,0,0,0.1,0.4,1.0,1.4, 1.2,1.5,1.3,0.9,0.6,1.1,0.5,0.3,0.1,0.3, 0.5,0.2,0.6,0.9,0.5,0.3,0.8,1.3,2.0,1.3, 2.5,1.8,1.0,0.7,0.5,0.9,0.4,0.3,0.2,0.4, 0.5,0.3,0.4,0.7,0.3,0.2,0.4,0.2,0.1,0.2, 0.3,0.2,0.1,0.2,0.4,0.6,0.3,0.2,0.1,0.3, 0.6,0.9,2.4,7.8]
];

// ---- chart ----
const W = 850, H = 620;
const plot = { left: 162.5, right: 810, top: 30, bottom: 560 };
const runTime = Date.UTC(2025, 11, 30, 12);
const times = leadHours.map(h => new Date(runTime + h * 3600 * 1000));

const svg = d3.select("#chart").append("svg")
  .attr("width", W)
  .attr("height", H)
  .style("background", "#000");

const x = d3.scaleUtc()
  .domain([new Date(Date.UTC(2025, 11, 30, 0)), new Date(Date.UTC(2026, 0, 15, 13, 30))])
  .range([plot.left, plot.right]);
const yT = d3.scaleLinear().domain([-20, 25]).range([plot.bottom, plot.top]);
const yP = d3.scaleLinear().domain([0, 40]).range([plot.bottom, plot.top]);

svg.append("clipPath").attr("id", "clip")
  .append("rect")
  .attr("x", plot.left).attr("y", plot.top)
  .attr("width", plot.right - plot.left).attr("height", plot.bottom - plot.top);

// grid (dashed), daily verticals and every 5 degrees horizontal
const grid = svg.append("g").attr("stroke", "#4a4a4a").attr("stroke-dasharray", "4,3").attr("stroke-width", 1);
grid.selectAll(".vgrid")
  .data(d3.utcDay.range(new Date(Date.UTC(2025, 11, 31)), x.domain()[1]))
  .enter().append("line")
  .attr("x1", d => x(d)).attr("x2", d => x(d))
  .attr("y1", plot.top).attr("y2", plot.bottom);
grid.selectAll(".hgrid")
  .data(tempTicks.filter(t => t !== 0 && t > -20 && t < 25))
  .enter().append("line")
  .attr("x1", plot.left).attr("x2", plot.right)
  .attr("y1", d => yT(d)).attr("y2", d => yT(d));

// zero line
svg.append("line")
  .attr("x1", plot.left).attr("x2", plot.right)
  .attr("y1", yT(0)).attr("y2", yT(0))
  .attr("stroke", "#fff").attr("stroke-width", 1.6);

const lines = svg.append("g").attr("clip-path", "url(#clip)").attr("fill", "none")
  .attr("stroke-linejoin", "round");

const lineT = d3.line().defined((d, i) => i < times.length).x((d, i) => x(times[i])).y(d => yT(d));
const lineP = d3.line().defined((d, i) => i < times.length).x((d, i) => x(times[i])).y(d => yP(d));

// members: temperature then precipitation
tempMembers.forEach((s, k) => {
  lines.append("path").datum(s).attr("d", lineT)
    .attr("stroke", memberColors[k]).attr("stroke-width", 1);
});
precipMembers.forEach((s, k) => {
  lines.append("path").datum(s).attr("d", lineP)
    .attr("stroke", memberColors[k]).attr("stroke-width", 1);
});

// control, ensemble mean, operational run
const thick = [
  { t: tempControl, p: precipControl, color: "#0000ff" },
  { t: tempMean, p: precipMean, color: "#ffffff" },
  { t: tempOper, p: precipOper, color: "#00e000" }
];
thick.forEach(d => {
  lines.append("path").datum(d.t).attr("d", lineT).attr("stroke", d.color).attr("stroke-width", 3.5);
  lines.append("path").datum(d.p).attr("d", lineP).attr("stroke", d.color).attr("stroke-width", 3.5);
});

// frame
svg.append("rect")
  .attr("x", plot.left).attr("y", plot.top)
  .attr("width", plot.right - plot.left).attr("height", plot.bottom - plot.top)
  .attr("fill", "none").attr("stroke", "#cfcfcf").attr("stroke-width", 1);

// left axis
const gL = svg.append("g").attr("transform", `translate(${plot.left},0)`)
  .call(d3.axisLeft(yT).tickValues(tempTicks).tickSize(0).tickPadding(9));
gL.select(".domain").remove();

// right axis, ticks every mm pointing inward
const gR = svg.append("g").attr("transform", `translate(${plot.right},0)`)
  .call(d3.axisRight(yP).ticks(40).tickSize(-5).tickPadding(7)
    .tickFormat(d => precipLabels.includes(d) ? d : ""));
gR.select(".domain").remove();
gR.selectAll("line").attr("stroke", "#e0e0e0");

// bottom axis
const gB = svg.append("g").attr("transform", `translate(0,${plot.bottom})`)
  .call(d3.axisBottom(x).tickValues(dateTicks.map(t => new Date(t)))
    .tickFormat(d3.utcFormat("%d%b %Hz")).tickSize(0).tickPadding(9));
gB.select(".domain").remove();

svg.selectAll(".tick text").attr("fill", "#fff").style("font-size", "10px")
  .style("font-family", "'DejaVu Sans', sans-serif");

// axis titles
svg.append("text")
  .attr("transform", `translate(135,${(plot.top + plot.bottom) / 2}) rotate(-90)`)
  .attr("text-anchor", "middle").style("font-size", "10px")
  .text("2m Temp. (°C)");
svg.append("text")
  .attr("transform", `translate(844,${(plot.top + plot.bottom) / 2}) rotate(-90)`)
  .attr("text-anchor", "middle").style("font-size", "10px")
  .text("Neerslag (mm)");
svg.append("text")
  .attr("x", 486).attr("y", 593)
  .attr("text-anchor", "middle").style("font-size", "10px")
  .text("Date (UTC)");

// title and footer
svg.append("text")
  .attr("x", 436).attr("y", 17)
  .attr("text-anchor", "middle")
  .style("font-size", "16px").style("font-weight", "bold").style("white-space", "pre")
  .text("De Bilt  (NL)  2m Temp. & Neerslag | Tue, 30Dec2025 12Z");
svg.append("text")
  .attr("x", 120).attr("y", 605)
  .style("font-size", "16px").attr("fill", "#e6e6e6")
  .text("GFS Ensemble, 52N, 5E");
svg.append("text")
  .attr("x", 793).attr("y", 605)
  .attr("text-anchor", "end")
  .style("font-size", "16px").attr("fill", "#e6e6e6")
  .text("Wetterzentrale.de");

// legend: two columns, members then control / mean / oper
const legendItems = memberNames.map((n, k) => ({ label: n, color: memberColors[k], w: 2 }))
  .concat([
    { label: "Control", color: "#0000ff", w: 2.5 },
    { label: "Ens. mean", color: "#ffffff", w: 2.5 },
    { label: "Oper", color: "#00e000", w: 2.5 }
  ]);
const legend = svg.append("g");
legendItems.forEach((d, k) => {
  const col = k % 2, row = Math.floor(k / 2);
  const lx = col === 0 ? 0 : 55;
  const ly = 40 + row * 15;
  legend.append("line")
    .attr("x1", lx).attr("x2", lx + 9.5).attr("y1", ly).attr("y2", ly)
    .attr("stroke", d.color).attr("stroke-width", d.w);
  legend.append("text")
    .attr("x", lx + 9.5).attr("y", ly).attr("dy", "0.35em")
    .style("font-size", "10px")
    .text(d.label);
});
</script>
</body>
</html>
